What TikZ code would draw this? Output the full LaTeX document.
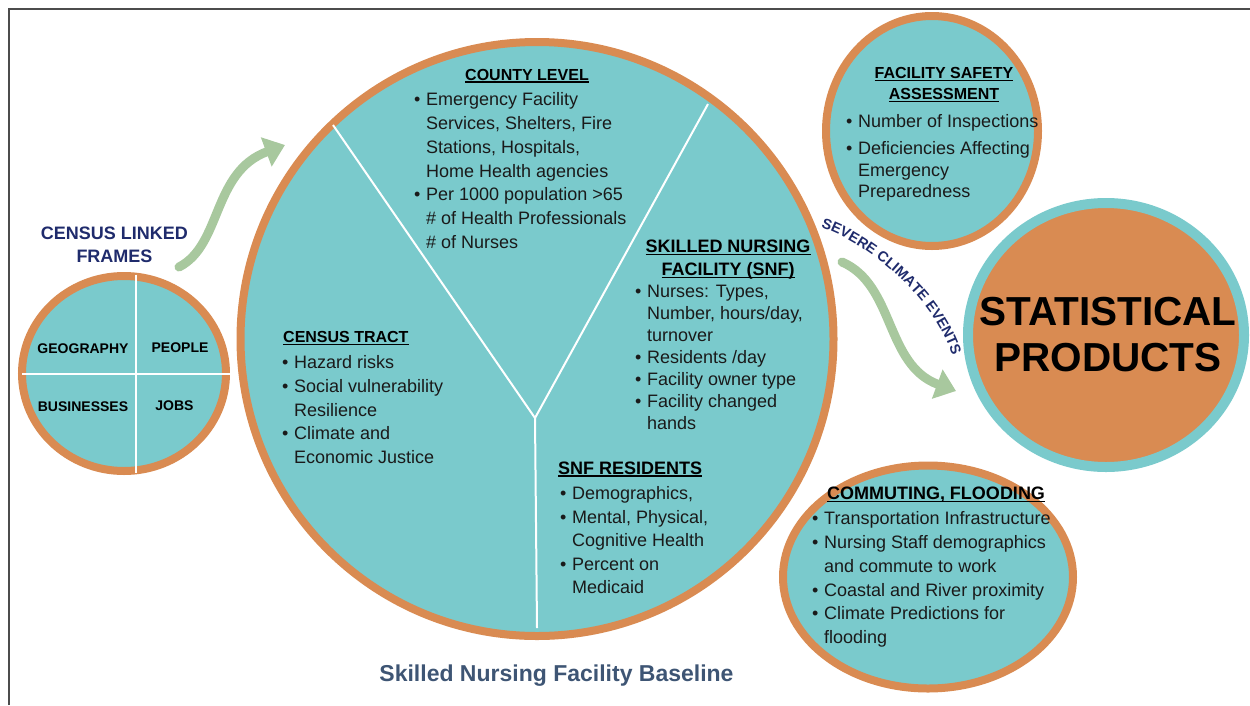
\documentclass[tikz,border=0pt]{standalone}
\usepackage{fontspec}
\setmainfont{Liberation Sans}
\usetikzlibrary{arrows.meta,calc,decorations.text,positioning,shapes.geometric}
\definecolor{discteal}{HTML}{7ACACC}
\definecolor{ringorange}{HTML}{D98B52}
\definecolor{flowgreen}{HTML}{A8C89E}
\definecolor{navytext}{HTML}{1F2B6C}
\definecolor{slatetext}{HTML}{3E5574}
\definecolor{bodytext}{HTML}{1A1A1A}
\newcommand{\itm}{\makebox[12pt][l]{\textbullet}}
\newcommand{\cnt}{\hspace*{12pt}}
\newcommand{\hul}[1]{\setbox0\hbox{#1}\rlap{\rule[-2.6pt]{\wd0}{1.4pt}}\box0}
\begin{document}
\begin{tikzpicture}[x=1pt,y=-1pt,
		disc/.style={ellipse,draw=ringorange,fill=discteal,line width=8pt,inner sep=0pt},
		divider/.style={draw=white,line width=2pt},
		flow/.style={draw=flowgreen,line width=9pt,line cap=round,-{Triangle[length=20pt,width=30pt]}},
		headbig/.style={font=\bfseries\fontsize{18}{23}\selectfont,inner sep=0pt,align=center},
		headsmall/.style={font=\bfseries\fontsize{16}{21}\selectfont,inner sep=0pt,align=center},
		quad/.style={font=\bfseries\fontsize{14}{14}\selectfont,anchor=base,inner sep=0pt},
		list/.style={anchor=north west,inner sep=0pt,align=left,text=bodytext}]
		\useasboundingbox (0,0) rectangle (1250,705);
		\draw[line width=2pt,draw=black!70] (9,705) -- (9,9) -- (1250,9);
		%
		\node[disc,minimum width=204pt,minimum height=195pt] (frames) at (124,373.5) {};
		\node[disc,minimum width=593pt,minimum height=594pt] (county) at (537,339) {};
		\node[disc,minimum width=212pt,minimum height=230pt] (safety) at (932,131) {};
		\node[disc,minimum width=290pt,minimum height=223pt] (commute) at (928,577) {};
		\node[disc,draw=discteal,fill=ringorange,line width=10pt,minimum width=276pt,minimum height=264pt] (stats) at (1106,335) {};
		%
		\draw[divider] ($(frames.center)+(12,-99)$) -- ($(frames.center)+(12,99)$);
		\draw[divider] ($(frames.west)+(4,0)$) -- ($(frames.east)+(2,0)$);
		\coordinate (fork) at (535,418);
		\coordinate (forkleft) at (333,125);
		\coordinate (forkright) at (708,104);
		\coordinate (forkdown) at (537,628);
		\draw[divider] (fork) -- (forkleft);
		\draw[divider] (fork) -- (forkright);
		\draw[divider] (fork) -- (forkdown);
		%
		\node[headbig,text=navytext,anchor=north] (framestitle) at (114.5,226.5) {CENSUS LINKED\\FRAMES};
		\node[quad] (geo) at (83,353.5) {GEOGRAPHY};
		\node[quad] (people) at (180,352.5) {PEOPLE};
		\node[quad] (biz) at (83,411) {BUSINESSES};
		\node[quad] (jobs) at (174.5,410) {JOBS};
		%
		\node[headsmall,anchor=base] (countyhead) at (527,80) {\hul{COUNTY LEVEL}};
		\node[list,font=\fontsize{18}{23.8}\selectfont] (countylist) at (414,92.4) {\itm Emergency Facility\\\cnt Services, Shelters, Fire\\\cnt Stations, Hospitals,\\\cnt Home Health agencies\\\itm Per 1000 population >65\\\cnt \# of Health Professionals\\\cnt \# of Nurses};
		%
		\node[headbig,anchor=north] (snfhead) at (728,239.6) {\hul{SKILLED NURSING}\\\hul{FACILITY (SNF)}};
		\node[list,font=\fontsize{18}{22}\selectfont] (snflist) at (635,284.5) {\itm Nurses: Types,\\\cnt Number, hours/day,\\\cnt turnover\\\itm Residents /day\\\itm Facility owner type\\\itm Facility changed\\\cnt hands};
		%
		\node[headsmall,anchor=base west] (tracthead) at (283,342.7) {\hul{CENSUS TRACT}};
		\node[list,font=\fontsize{18}{23.7}\selectfont] (tractlist) at (282,355.5) {\itm Hazard risks\\\itm Social vulnerability\\\cnt Resilience\\\itm Climate and\\\cnt Economic Justice};
		%
		\node[headbig,anchor=base west] (residenthead) at (558,474) {\hul{SNF RESIDENTS}};
		\node[list,font=\fontsize{18}{23.5}\selectfont] (residentlist) at (560,486.5) {\itm Demographics,\\\itm Mental, Physical,\\\cnt Cognitive Health\\\itm Percent on\\\cnt Medicaid};
		%
		\node[headsmall,anchor=north] (safetyhead) at (944,67) {\hul{FACILITY SAFETY}\\\hul{ASSESSMENT}};
		\node[list,font=\fontsize{18}{21.5}\selectfont] (safetylist) at (846,114.5) {\itm Number of Inspections\\[5.5pt]\itm Deficiencies Affecting\\\cnt Emergency\\\cnt Preparedness};
		%
		\node[headbig,anchor=base] (commutehead) at (936,499.5) {\hul{COMMUTING, FLOODING}};
		\node[list,font=\fontsize{18}{23.8}\selectfont] (commutelist) at (812,511.5) {\itm Transportation Infrastructure\\\itm Nursing Staff demographics\\\cnt and commute to work\\\itm Coastal and River proximity\\\itm Climate Predictions for\\\cnt flooding};
		%
		\node[font=\bfseries\fontsize{40.5}{46}\selectfont,align=center,inner sep=0pt] (statstext) at (1108,335) {STATISTICAL\\PRODUCTS};
		\node[font=\bfseries\fontsize{23}{23}\selectfont,text=slatetext,anchor=base,inner sep=0pt] (baseline) at (556.5,681.5) {Skilled Nursing Facility Baseline};
		%
		\coordinate (framesout) at (179,267);
		\coordinate (countyin) at (285,145);
		\draw[flow] (framesout) .. controls (222,245) and (212,172) .. (countyin);
		\coordinate (snfout) at (842,262);
		\coordinate (statsin) at (956,391);
		\draw[flow] (snfout) .. controls (895,285) and (885,365) .. (statsin);
		\path[decorate,decoration={text along path,text align=center,
			text={|\bfseries\fontsize{14.5}{14.5}\selectfont\color{navytext}|SEVERE CLIMATE EVENTS}}]
			(815,226) .. controls (862,238) and (938,298) .. (954,362);
	\end{tikzpicture}
\end{document}
